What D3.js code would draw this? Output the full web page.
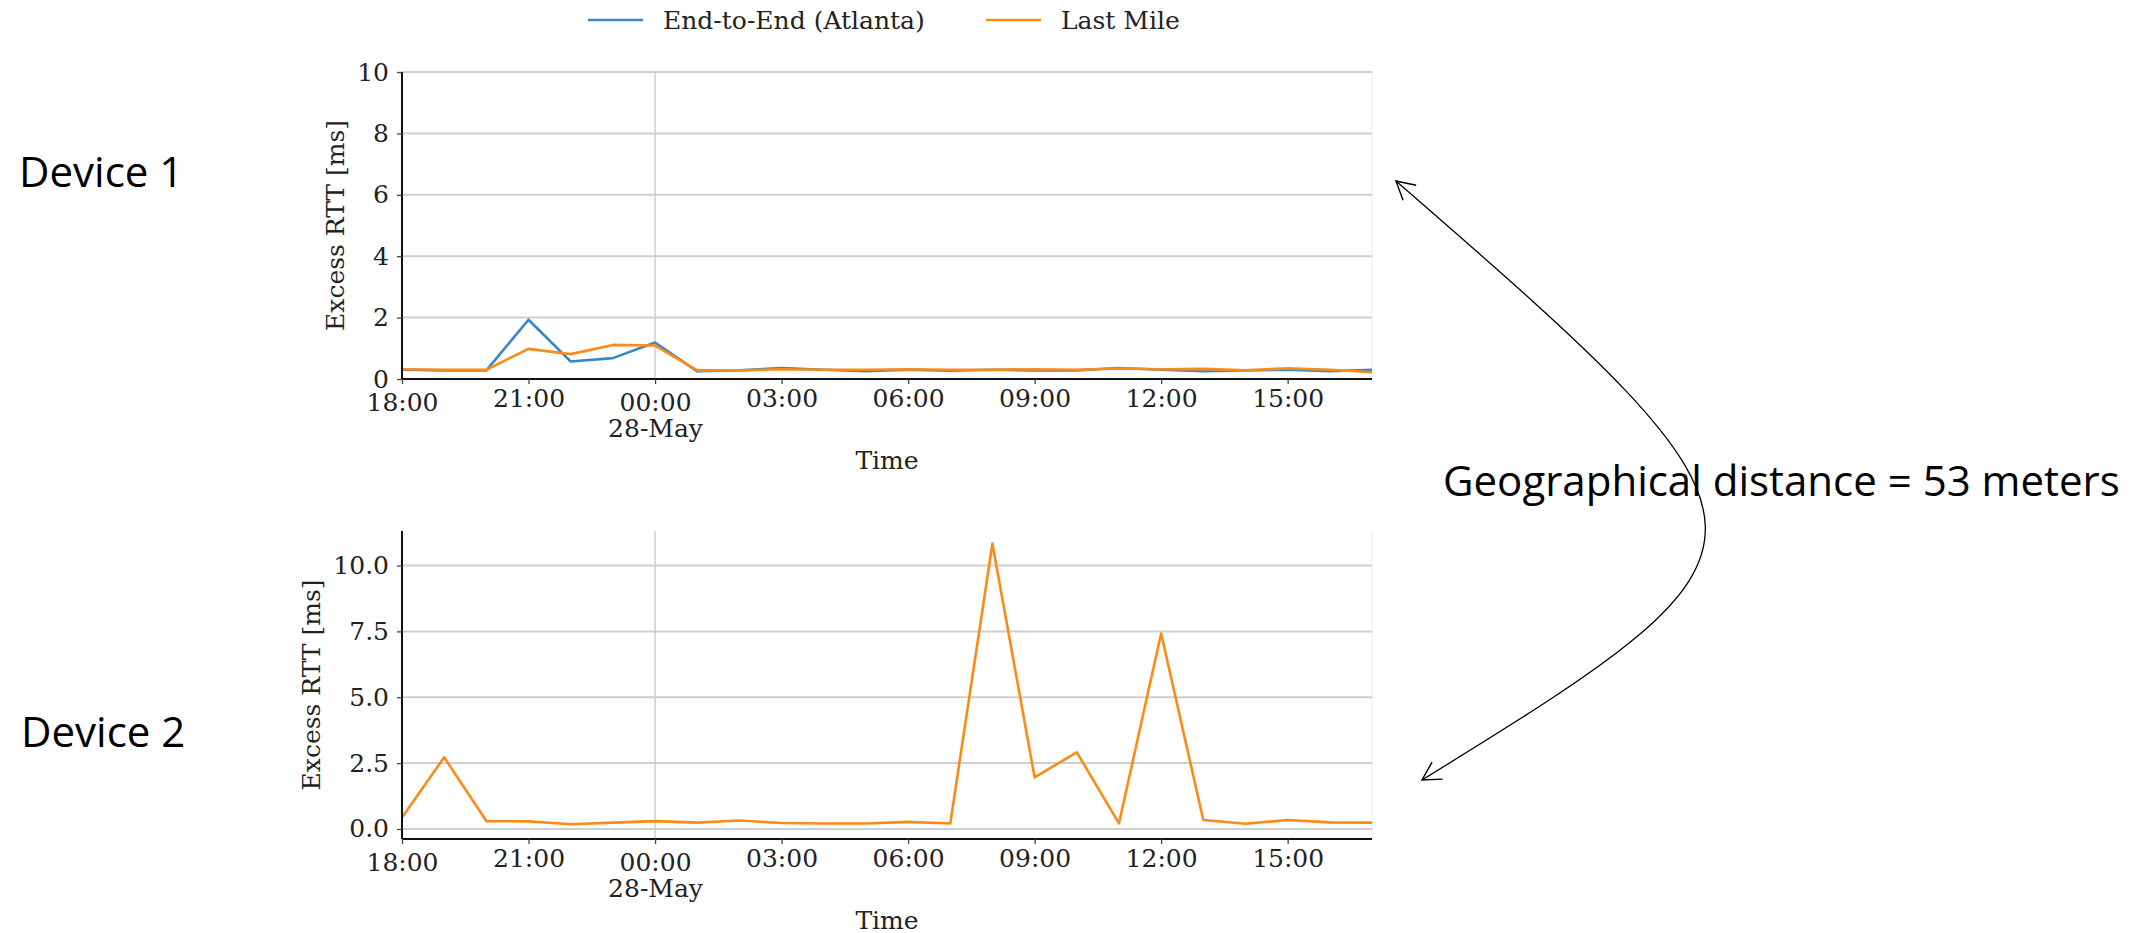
<!DOCTYPE html>
<html>
<head>
<meta charset="utf-8">
<script src="https://cdn.jsdelivr.net/npm/d3@7"></script>
<style>
  body { margin: 0; background: #fff; }
  svg { display: block; }
  .serif { font-family: "DejaVu Serif", serif; fill: #222; }
  .note { font-family: "Open Sans", "Noto Sans", sans-serif; fill: #000; }
</style>
</head>
<body>
<svg id="chart" width="2139" height="933"></svg>
<script>
// hourly samples, 27-May 18:00 .. 28-May 17:00
const times = ['27-May 18:00','27-May 19:00','27-May 20:00','27-May 21:00','27-May 22:00','27-May 23:00',
  '28-May 00:00','28-May 01:00','28-May 02:00','28-May 03:00','28-May 04:00','28-May 05:00',
  '28-May 06:00','28-May 07:00','28-May 08:00','28-May 09:00','28-May 10:00','28-May 11:00',
  '28-May 12:00','28-May 13:00','28-May 14:00','28-May 15:00','28-May 16:00','28-May 17:00'];

// device 1
const endToEnd1 = [0.30,0.28,0.28,1.93,0.57,0.68,1.19,0.25,0.28,0.36,0.30,0.25,
  0.30,0.27,0.30,0.28,0.28,0.36,0.30,0.25,0.28,0.30,0.25,0.30];
const lastMile1 = [0.32,0.30,0.30,0.98,0.81,1.11,1.09,0.28,0.28,0.32,0.30,0.30,
  0.32,0.30,0.30,0.32,0.30,0.34,0.32,0.33,0.28,0.35,0.30,0.22];

// device 2
const lastMile2 = [0.44,2.72,0.30,0.29,0.18,0.24,0.30,0.24,0.32,0.23,0.21,0.21,
  0.27,0.21,10.83,1.96,2.91,0.21,7.42,0.34,0.20,0.34,0.25,0.24];

const yTicksTop = [0, 2, 4, 6, 8, 10];
const yTicksBottom = [0, 2.5, 5, 7.5, 10];
const seriesNames = ['End-to-End (Atlanta)', 'Last Mile'];
const colors = ['#3a87c6', '#fb8b16'];

const parse = d3.timeParse('%d-%b %H:%M');
const dates = times.map(parse);
const svg = d3.select('#chart');

const x = d3.scaleTime().domain(d3.extent(dates)).range([402, 1372]);

function drawPanel(opts) {
  const y = d3.scaleLinear().domain(opts.domain).range([opts.bottom, opts.top]);
  const g = svg.append('g');

  // faint right edge
  g.append('line')
    .attr('x1', 1372).attr('x2', 1372).attr('y1', opts.top).attr('y2', opts.bottom)
    .attr('stroke', '#ececec').attr('stroke-width', 1);

  // horizontal grid
  g.selectAll('.hgrid').data(opts.ticks).join('line')
    .attr('x1', 402).attr('x2', 1372)
    .attr('y1', d => y(d)).attr('y2', d => y(d))
    .attr('stroke', '#cfcfcf').attr('stroke-width', 2);

  // vertical grid at the day boundary
  const midnight = dates.find(d => d.getHours() === 0);
  g.append('line')
    .attr('x1', x(midnight)).attr('x2', x(midnight))
    .attr('y1', opts.top).attr('y2', opts.bottom)
    .attr('stroke', '#c8c8c8').attr('stroke-width', 1.3);

  // lines
  opts.series.forEach(s => {
    const line = d3.line().x((d, i) => x(dates[i])).y(d => y(d));
    g.append('path')
      .attr('d', line(s.values))
      .attr('fill', 'none')
      .attr('stroke', s.color)
      .attr('stroke-width', 2.6)
      .attr('stroke-linejoin', 'round');
  });

  // y axis
  const yAxis = g.append('g')
    .attr('transform', 'translate(402,0)')
    .call(d3.axisLeft(y).tickValues(opts.ticks).tickFormat(opts.fmt).tickSize(5).tickPadding(8));
  yAxis.select('.domain').attr('stroke', '#111').attr('stroke-width', 2)
    .attr('d', `M0,${opts.top}V${opts.bottom}`);
  yAxis.selectAll('.tick line').attr('stroke', '#444').attr('stroke-width', 1.3);
  yAxis.selectAll('.tick text').attr('class', 'serif').attr('font-size', 25).attr('fill', '#222');

  // x axis
  const xAxis = g.append('g')
    .attr('transform', `translate(0,${opts.bottom})`)
    .call(d3.axisBottom(x).ticks(d3.timeHour.every(3)).tickFormat(d3.timeFormat('%H:%M')).tickSize(5).tickPadding(6));
  xAxis.select('.domain').attr('stroke', '#111').attr('stroke-width', 2)
    .attr('d', 'M402,0H1372');
  xAxis.selectAll('.tick line').attr('stroke', '#444').attr('stroke-width', 1.3);
  xAxis.selectAll('.tick text')
    .attr('class', 'serif').attr('font-size', 25).attr('fill', '#222')
    .attr('dy', null)
    .attr('y', (d, i) => (i === 0 || d.getHours() === 0) ? 32 : 28)
    .each(function(d) {
      if (d.getHours() === 0) {
        d3.select(this.parentNode).append('text')
          .attr('class', 'serif').attr('font-size', 25).attr('fill', '#222')
          .attr('text-anchor', 'middle').attr('y', 58)
          .text(d3.timeFormat('%d-%b')(d));
      }
    });

  g.append('text').attr('class', 'serif').attr('font-size', 25)
    .attr('x', 887).attr('y', opts.bottom + 90).attr('text-anchor', 'middle').text('Time');

  g.append('text').attr('class', 'serif').attr('font-size', 25)
    .attr('transform', `translate(${opts.labelX},${(opts.top + opts.bottom) / 2}) rotate(-90)`)
    .attr('text-anchor', 'middle').attr('dominant-baseline', 'central')
    .text('Excess RTT [ms]');
}

drawPanel({
  domain: [0, 10], top: 72, bottom: 379, ticks: yTicksTop, fmt: d3.format('d'), labelX: 335,
  series: [{ values: endToEnd1, color: colors[0] }, { values: lastMile1, color: colors[1] }]
});
drawPanel({
  domain: [-0.38, 11.31], top: 531, bottom: 839, ticks: yTicksBottom, fmt: d3.format('.1f'), labelX: 311,
  series: [{ values: lastMile2, color: colors[1] }]
});

// legend
const legend = svg.append('g');
const legendX = [588, 986];
seriesNames.forEach((name, i) => {
  legend.append('line')
    .attr('x1', legendX[i]).attr('x2', legendX[i] + 55).attr('y1', 20).attr('y2', 20)
    .attr('stroke', colors[i]).attr('stroke-width', 2.6);
  legend.append('text').attr('class', 'serif').attr('font-size', 25)
    .attr('x', legendX[i] + 75).attr('y', 29).text(name);
});

// annotations
svg.append('text').attr('class', 'note').attr('font-size', 42).attr('x', 19).attr('y', 187).text('Device 1');
svg.append('text').attr('class', 'note').attr('font-size', 42).attr('x', 21).attr('y', 747).text('Device 2');
svg.append('text').attr('class', 'note').attr('font-size', 42).attr('x', 1443).attr('y', 496)
  .text('Geographical distance = 53 meters');

const defs = svg.append('defs');
defs.append('marker')
  .attr('id', 'head').attr('markerUnits', 'userSpaceOnUse')
  .attr('viewBox', '-20 -12 22 24').attr('refX', 0).attr('refY', 0)
  .attr('markerWidth', 22).attr('markerHeight', 24)
  .attr('orient', 'auto-start-reverse')
  .append('path').attr('d', 'M-18,-10L0,0L-18,10')
  .attr('fill', 'none').attr('stroke', '#000').attr('stroke-width', 1.4);

const arc = d3.path();
arc.moveTo(1396, 181);
arc.bezierCurveTo(1804, 535, 1804, 545, 1422, 780);
svg.append('path').attr('d', arc.toString())
  .attr('fill', 'none').attr('stroke', '#000').attr('stroke-width', 1.3)
  .attr('marker-start', 'url(#head)').attr('marker-end', 'url(#head)');
</script>
</body>
</html>
